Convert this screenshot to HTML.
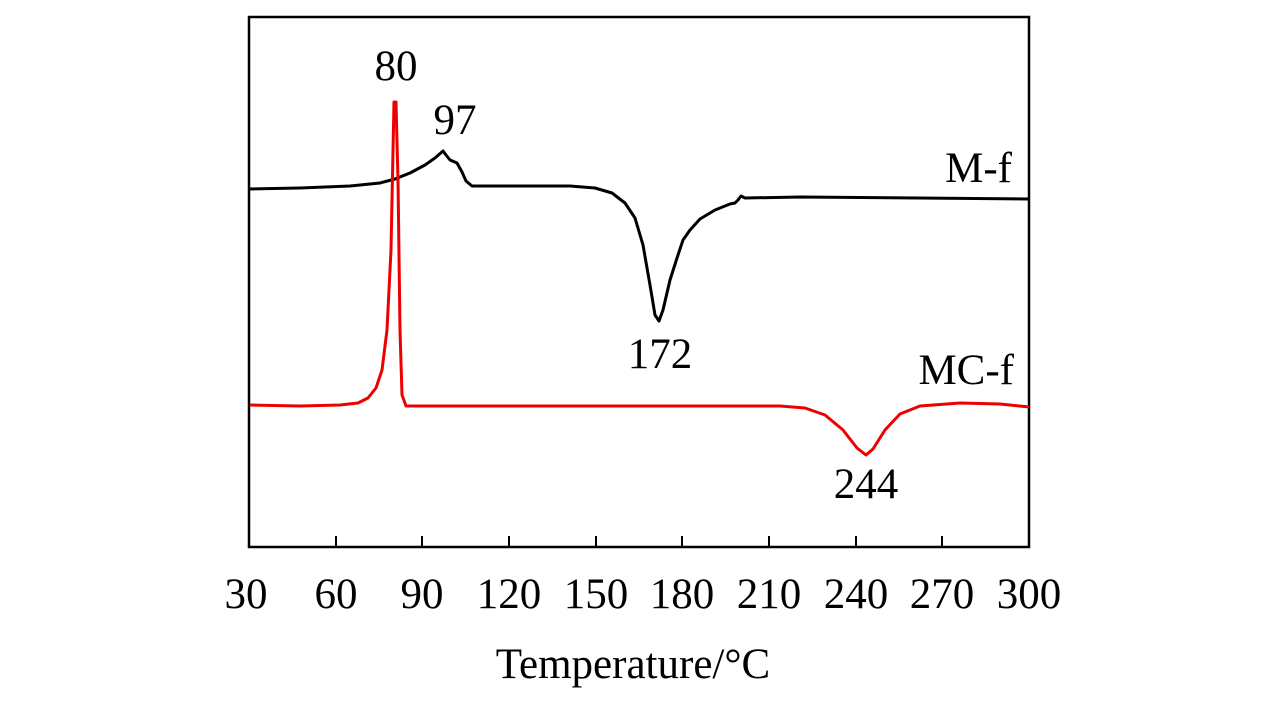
<!DOCTYPE html>
<html><head><style>body{margin:0;background:#fff}svg{display:block}text{font-family:"Liberation Serif",serif;font-size:43px;fill:#000}</style></head><body>
<svg width="1276" height="709" xmlns="http://www.w3.org/2000/svg">
<rect x="249" y="17" width="780" height="530" fill="none" stroke="#000" stroke-width="2.5"/>
<g stroke="#000" stroke-width="2">
<line x1="336" y1="547" x2="336" y2="536"/><line x1="422" y1="547" x2="422" y2="536"/><line x1="509" y1="547" x2="509" y2="536"/><line x1="596" y1="547" x2="596" y2="536"/><line x1="682" y1="547" x2="682" y2="536"/><line x1="769" y1="547" x2="769" y2="536"/><line x1="856" y1="547" x2="856" y2="536"/><line x1="942" y1="547" x2="942" y2="536"/>
</g>
<path d="M250,189 L300,188 L350,186 L380,183 L395,179 L410,173 L425,165 L435,158 L443,151 L446,155 L450,160 L457,163 L462,172 L466,181 L472,186 L500,186 L570,186 L595,188 L612,193 L625,203 L635,218 L643,245 L650,285 L655,315 L659,321 L663,310 L670,280 L677,258 L683,240 L690,230 L700,219 L715,210 L730,204 L735,203 L738,200 L741,196 L745,198 L800,197 L1029,199" fill="none" stroke="#000" stroke-width="3" stroke-linejoin="round"/>
<path d="M250,405 L300,406 L340,405 L358,403 L368,398 L376,388 L382,370 L387,330 L391,250 L394,102 L396,102 L398,180 L400,330 L402,395 L406,406 L600,406 L780,406 L805,408 L825,415 L843,430 L857,448 L866,455 L873,449 L885,430 L900,414 L920,406 L960,403 L1000,404 L1029,407" fill="none" stroke="#e00" stroke-width="3" stroke-linejoin="round"/>
<text x="396" y="80" text-anchor="middle">80</text>
<text x="455" y="134" text-anchor="middle">97</text>
<text x="1012" y="182" text-anchor="end">M-f</text>
<text x="660" y="368" text-anchor="middle">172</text>
<text x="1014" y="384" text-anchor="end">MC-f</text>
<text x="866" y="498" text-anchor="middle">244</text>
<g text-anchor="middle">
<text x="246" y="608">30</text><text x="336" y="608">60</text><text x="422" y="608">90</text><text x="509" y="608">120</text><text x="596" y="608">150</text><text x="682" y="608">180</text><text x="769" y="608">210</text><text x="856" y="608">240</text><text x="942" y="608">270</text><text x="1029" y="608">300</text>
<text x="633" y="678">Temperature/°C</text>
</g>
</svg>
</body></html>
